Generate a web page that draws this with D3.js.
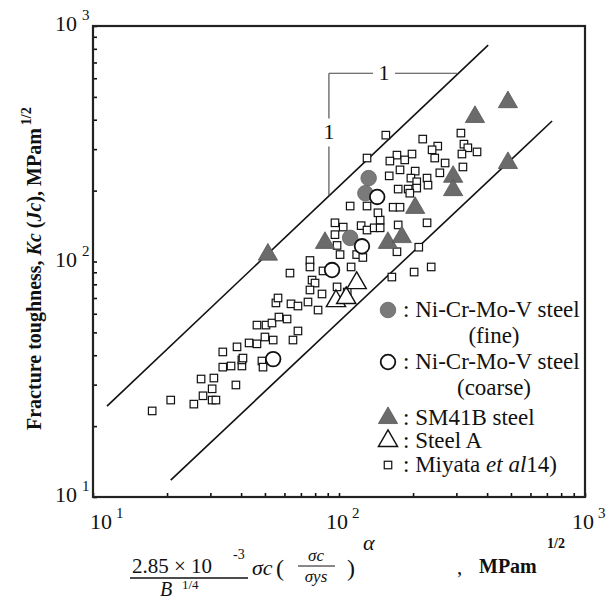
<!DOCTYPE html>
<html>
<head>
<meta charset="utf-8">
<script src="https://cdn.jsdelivr.net/npm/d3@7"></script>
<style>
  body { margin: 0; background: #fff; }
  svg { display: block; }
  svg text { font-family: "Liberation Serif", "Times New Roman", Times, serif; fill: #111; }
</style>
</head>
<body>
<svg id="chart" width="607" height="601" font-family="Liberation Serif, Times New Roman, serif"></svg>
<script>
// Miyata et al. 14) data set (open squares)
const miyataX = [17.4, 20.7, 25.7, 28.0, 30.5, 31.6, 27.5, 31.0, 30.5, 38.1,
  33.7, 36.4, 40.3, 40.3, 48.6, 49.1, 33.7, 38.5, 43.1, 46.4,
  40.7, 46.4, 50.5, 53.4, 50.0, 54.0, 65.0, 68.1, 57.0, 61.5,
  55.4, 56.5, 63.8, 68.1, 63.2, 74.8, 82.2, 76.2, 76.2, 86.1,
  77.7, 79.9, 76.2, 85.3, 98.2, 108, 112, 101, 118, 125,
  98.2, 96.3, 104, 96.3, 123, 130, 139, 147, 147, 144,
  111, 130, 166, 174, 172, 164, 130, 155, 219, 313,
  252, 239, 322, 334, 364, 316, 245, 270, 319, 172,
  198, 185, 161, 160, 177, 204, 257, 228, 196, 207,
  230, 174, 191, 207, 194, 177, 228, 211, 237, 202];
const miyataY = [23.2, 25.8, 24.8, 26.9, 25.8, 25.8, 31.7, 32.0, 28.8, 29.9,
  35.6, 36.0, 36.0, 38.2, 37.8, 35.6, 41.3, 43.4, 45.1, 44.7,
  38.9, 53.7, 53.7, 54.8, 47.8, 46.4, 46.4, 50.7, 58.1, 57.0,
  66.7, 70.0, 66.1, 64.7, 89.3, 67.3, 62.2, 101, 94.8, 91.2,
  83.4, 81.0, 75.7, 72.8, 78.0, 74.2, 94.8, 107, 107, 104,
  117, 146, 140, 130, 142, 136, 139, 139, 150, 161,
  172, 172, 170, 143, 110, 85.9, 275, 344, 331, 351,
  309, 298, 315, 304, 292, 286, 275, 262, 252, 283,
  286, 270, 267, 231, 245, 242, 238, 226, 226, 218,
  211, 203, 203, 205, 195, 170, 146, 115, 94.8, 90.2];

// Ni-Cr-Mo-V steel, fine grain (filled circles)
const fineX = [132, 128, 111];
const fineY = [226, 195, 126];
// Ni-Cr-Mo-V steel, coarse grain (open circles)
const coarseX = [143, 124, 93.7, 54.0];
const coarseY = [188, 116, 92.0, 38.5];
// SM41B steel (filled triangles)
const sm41bX = [51.4, 87.7, 158, 180, 204, 291, 291, 357, 486, 486];
const sm41bY = [107, 120, 120, 127, 169, 229, 201, 411, 475, 262];
// Steel A (open triangles)
const steelAX = [97.2, 107, 118];
const steelAY = [67.9, 70.0, 81.0];

// Scatter band boundaries (slope 1 on log-log axes)
const bandUpperX = [11.4, 404];
const bandUpperY = [24.3, 830];
const bandLowerX = [20.7, 735];
const bandLowerY = [11.8, 395];
// Slope indicator: corner at (slopeX[0], slopeY[1])
const slopeX = [91, 302];
const slopeY = [190, 630];

// Axis decades and tick exponents
const majorTicks = [10, 100, 1000];
const tickExponents = ["1", "2", "3"];
const minorTicks = [];
[10, 100].forEach(d => { for (let k = 1; k <= 9; k++) minorTicks.push(d * k); });
minorTicks.push(1000);

const legendItems = [
  { key: "fine", lines: [": Ni-Cr-Mo-V steel", "(fine)"] },
  { key: "coarse", lines: [": Ni-Cr-Mo-V steel", "(coarse)"] },
  { key: "sm41b", lines: [": SM41B steel"] },
  { key: "steelA", lines: [": Steel A"] },
  { key: "miyata", lines: [": Miyata "] }
];

const svg = d3.select("#chart");
const L = 93, R = 585, T = 26, B = 497;
const x = d3.scaleLog().domain([10, 1000]).range([L, R]);
const y = d3.scaleLog().domain([10, 1000]).range([B, T]);

const triFill = "#6b6b6b";
const circFill = "#7a7a7a";
const triSym = d3.symbol().type(d3.symbolTriangle).size(160);

// Inward ticks on the bottom and left axes
const xAxis = d3.axisBottom(x).tickValues(minorTicks).tickFormat("").tickSizeInner(-4).tickSizeOuter(0);
const yAxis = d3.axisLeft(y).tickValues(minorTicks).tickFormat("").tickSizeInner(-4).tickSizeOuter(0);
const gx = svg.append("g").attr("transform", `translate(0,${B})`).call(xAxis);
const gy = svg.append("g").attr("transform", `translate(${L},0)`).call(yAxis);
[gx, gy].forEach(g => {
  g.select(".domain").remove();
  g.selectAll(".tick line").attr("stroke", "#111").attr("stroke-width", 1.6);
});

// Frame
svg.append("rect").attr("x", L).attr("y", T).attr("width", R - L).attr("height", B - T)
  .attr("fill", "none").attr("stroke", "#222").attr("stroke-width", 2.2);

// Decade labels 10^n (the first x label sits clear of the corner)
majorTicks.forEach((v, i) => {
  const shift = i === 0 ? 10 : 0;
  svg.append("text").attr("x", x(v) + 9 + shift).attr("y", 529).attr("text-anchor", "end")
    .attr("font-size", 22).text("10");
  svg.append("text").attr("x", x(v) + 13 + shift).attr("y", 518).attr("font-size", 15).text(tickExponents[i]);
  svg.append("text").attr("x", 77).attr("y", y(v) + 5).attr("text-anchor", "end")
    .attr("font-size", 22).text("10");
  svg.append("text").attr("x", 82).attr("y", y(v) - 6).attr("font-size", 15).text(tickExponents[i]);
});

// Band lines
const line = d3.line().x(d => x(d[0])).y(d => y(d[1]));
[[bandUpperX, bandUpperY], [bandLowerX, bandLowerY]].forEach(([xs, ys]) => {
  svg.append("path").attr("d", line(xs.map((v, i) => [v, ys[i]])))
    .attr("fill", "none").attr("stroke", "#111").attr("stroke-width", 1.6);
});

// Slope indicator with "1" labels
const cx0 = x(slopeX[0]), cx1 = x(slopeX[1]), cy0 = y(slopeY[1]), cy1 = y(slopeY[0]);
const hLabX = cx0 + (cx1 - cx0) * 0.43, vLabY = (cy0 + cy1) / 2 - 3;
const seg = (x1, y1, x2, y2) => svg.append("line").attr("x1", x1).attr("y1", y1).attr("x2", x2).attr("y2", y2)
  .attr("stroke", "#444").attr("stroke-width", 1.1);
seg(cx0, cy0, hLabX - 11, cy0);
seg(hLabX + 11, cy0, cx1, cy0);
seg(cx0, cy0, cx0, vLabY - 13);
seg(cx0, vLabY + 15, cx0, cy1);
svg.append("text").attr("x", hLabX).attr("y", cy0 + 7).attr("text-anchor", "middle").attr("font-size", 22).text("1");
svg.append("text").attr("x", cx0).attr("y", vLabY + 7).attr("text-anchor", "middle").attr("font-size", 22).text("1");

// Miyata squares
const sq = 7.5;
svg.append("g").selectAll("rect").data(miyataX.map((v, i) => [v, miyataY[i]])).join("rect")
  .attr("x", d => x(d[0]) - sq / 2).attr("y", d => y(d[1]) - sq / 2)
  .attr("width", sq).attr("height", sq)
  .attr("fill", "#fff").attr("stroke", "#111").attr("stroke-width", 1.2);

// Steel A open triangles
svg.append("g").selectAll("path").data(steelAX.map((v, i) => [v, steelAY[i]])).join("path")
  .attr("d", triSym).attr("transform", d => `translate(${x(d[0])},${y(d[1])})`)
  .attr("fill", "#fff").attr("stroke", "#111").attr("stroke-width", 1.4);

// SM41B filled triangles
svg.append("g").selectAll("path").data(sm41bX.map((v, i) => [v, sm41bY[i]])).join("path")
  .attr("d", triSym).attr("transform", d => `translate(${x(d[0])},${y(d[1])})`)
  .attr("fill", triFill).attr("stroke", "#555").attr("stroke-width", 0.8);

// Fine-grain filled circles
svg.append("g").selectAll("circle").data(fineX.map((v, i) => [v, fineY[i]])).join("circle")
  .attr("cx", d => x(d[0])).attr("cy", d => y(d[1])).attr("r", 7.8)
  .attr("fill", circFill).attr("stroke", "#666").attr("stroke-width", 0.8);

// Coarse-grain open circles
svg.append("g").selectAll("circle").data(coarseX.map((v, i) => [v, coarseY[i]])).join("circle")
  .attr("cx", d => x(d[0])).attr("cy", d => y(d[1])).attr("r", 7.3)
  .attr("fill", "#fff").attr("stroke", "#111").attr("stroke-width", 1.8);

// Legend
const legY = [310, 362, 418, 441, 465];
const mx = 388, tx = 403;
legendItems.forEach((item, i) => {
  const cy = legY[i];
  if (item.key === "fine") svg.append("circle").attr("cx", mx).attr("cy", cy).attr("r", 7.8).attr("fill", circFill).attr("stroke", "#666").attr("stroke-width", 0.8);
  if (item.key === "coarse") svg.append("circle").attr("cx", mx).attr("cy", cy).attr("r", 7.3).attr("fill", "#fff").attr("stroke", "#111").attr("stroke-width", 1.8);
  if (item.key === "sm41b") svg.append("path").attr("d", triSym).attr("transform", `translate(${mx},${cy})`).attr("fill", triFill).attr("stroke", "#555").attr("stroke-width", 0.8);
  if (item.key === "steelA") svg.append("path").attr("d", triSym).attr("transform", `translate(${mx},${cy})`).attr("fill", "#fff").attr("stroke", "#111").attr("stroke-width", 1.4);
  if (item.key === "miyata") svg.append("rect").attr("x", mx - sq / 2).attr("y", cy - sq / 2).attr("width", sq).attr("height", sq).attr("fill", "#fff").attr("stroke", "#111").attr("stroke-width", 1.2);
  const t = svg.append("text").attr("x", tx).attr("y", cy + 7).attr("font-size", 23);
  t.append("tspan").text(item.lines[0]);
  if (item.key === "miyata") {
    t.append("tspan").attr("font-style", "italic").text("et al");
    t.append("tspan").text("14)");
  }
  if (item.lines[1]) {
    svg.append("text").attr("x", 494).attr("y", cy + 33).attr("text-anchor", "middle")
      .attr("font-size", 23).text(item.lines[1]);
  }
});

// Y-axis title
const yt = svg.append("text").attr("transform", "translate(41,430) rotate(-90)")
  .attr("font-size", 20).attr("font-weight", "bold");
yt.append("tspan").text("Fracture toughness, ");
yt.append("tspan").attr("font-style", "italic").text("Kc");
yt.append("tspan").text(" (");
yt.append("tspan").attr("font-style", "italic").text("Jc");
yt.append("tspan").text("), MPam");
yt.append("tspan").attr("font-size", 14).attr("dy", -10).attr("dx", 3).text("1/2");

// X-axis title: (2.85e-3 / B^1/4) σc (σc/σys)^α , MPam^1/2
const xt = svg.append("g");
xt.append("text").attr("x", 132).attr("y", 573).attr("font-size", 21).text("2.85 × 10");
xt.append("text").attr("x", 233).attr("y", 559).attr("font-size", 14).text("-3");
xt.append("line").attr("x1", 130).attr("x2", 248).attr("y1", 578).attr("y2", 578).attr("stroke", "#111").attr("stroke-width", 1.3);
xt.append("text").attr("x", 160).attr("y", 596).attr("font-size", 20).attr("font-style", "italic").text("B");
xt.append("text").attr("x", 182).attr("y", 589).attr("font-size", 13).text("1/4");
xt.append("text").attr("x", 252).attr("y", 575).attr("font-size", 22).attr("font-style", "italic").text("σc");
xt.append("text").attr("x", 276).attr("y", 576).attr("font-size", 24).text("(");
xt.append("text").attr("x", 316).attr("y", 561).attr("font-size", 17).attr("font-style", "italic").attr("text-anchor", "middle").text("σc");
xt.append("line").attr("x1", 298).attr("x2", 335).attr("y1", 566).attr("y2", 566).attr("stroke", "#111").attr("stroke-width", 1);
xt.append("text").attr("x", 316).attr("y", 582).attr("font-size", 17).attr("font-style", "italic").attr("text-anchor", "middle").text("σys");
xt.append("text").attr("x", 347).attr("y", 576).attr("font-size", 24).text(")");
xt.append("text").attr("x", 363).attr("y", 550).attr("font-size", 22).attr("font-style", "italic").text("α");
xt.append("text").attr("x", 457).attr("y", 574).attr("font-size", 21).text(",");
xt.append("text").attr("x", 479).attr("y", 573).attr("font-size", 20).attr("font-weight", "bold").text("MPam");
xt.append("text").attr("x", 547).attr("y", 548).attr("font-size", 14).attr("font-weight", "bold").text("1/2");
</script>
</body>
</html>
